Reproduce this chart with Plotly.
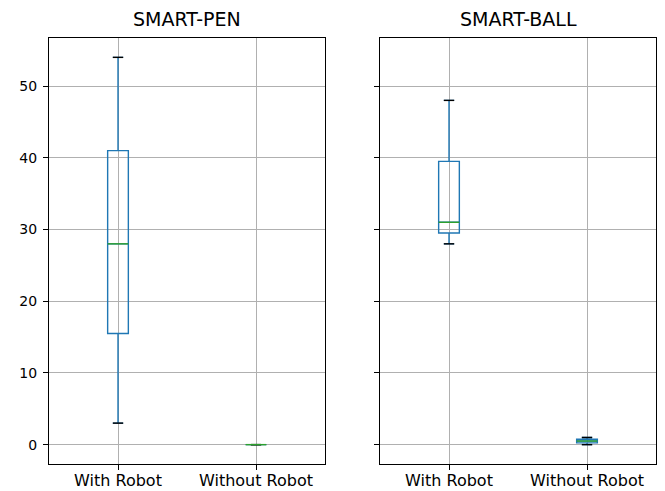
import plotly.graph_objects as go

# Summary statistics per panel: [With Robot, Without Robot]
groups = ["With Robot", "Without Robot"]
positions = [1, 2]

pen_low = [3, 0]
pen_q1 = [15.5, 0]
pen_median = [28, 0]
pen_q3 = [41, 0]
pen_high = [54, 0]

ball_low = [28, 0]
ball_q1 = [29.5, 0.25]
ball_median = [31, 0.5]
ball_q3 = [39.5, 0.75]
ball_high = [48, 1]

panels = [
    ("SMART-PEN", pen_low, pen_q1, pen_median, pen_q3, pen_high),
    ("SMART-BALL", ball_low, ball_q1, ball_median, ball_q3, ball_high),
]

BLUE = "#1f77b4"
GREEN = "#2ca02c"
BOX_W = 0.15
CAP_W = BOX_W / 2

fig = go.Figure()

for i, (title, low, q1, med, q3, high) in enumerate(panels):
    xa = "x" if i == 0 else "x2"
    ya = "y" if i == 0 else "y2"
    fig.add_trace(go.Box(
        x=positions, q1=q1, median=med, q3=q3,
        lowerfence=low, upperfence=high,
        width=BOX_W, whiskerwidth=0.5,
        line=dict(color=BLUE, width=1.4),
        fillcolor="rgba(0,0,0,0)",
        boxpoints=False, hoverinfo="skip",
        xaxis=xa, yaxis=ya, showlegend=False,
    ))
    # whisker caps (black)
    for ends in (low, high):
        cx, cy = [], []
        for p, v in zip(positions, ends):
            cx += [p - CAP_W / 2, p + CAP_W / 2, None]
            cy += [v, v, None]
        fig.add_trace(go.Scatter(
            x=cx, y=cy, mode="lines",
            line=dict(color="black", width=1.4),
            xaxis=xa, yaxis=ya, showlegend=False, hoverinfo="skip",
        ))
    # medians (green)
    mx, my = [], []
    for p, v in zip(positions, med):
        mx += [p - BOX_W / 2, p + BOX_W / 2, None]
        my += [v, v, None]
    fig.add_trace(go.Scatter(
        x=mx, y=my, mode="lines",
        line=dict(color=GREEN, width=1.4),
        xaxis=xa, yaxis=ya, showlegend=False, hoverinfo="skip",
    ))

W, H = 665, 491
top, bottom = 38, 464
ydom = [(H - bottom) / H, (H - top) / H]
xdom1 = [49 / W, 325 / W]
xdom2 = [380 / W, 656 / W]

axis_common = dict(
    showgrid=True, gridcolor="#b0b0b0", gridwidth=1,
    showline=True, linecolor="black", linewidth=1, mirror=True,
    ticks="outside", ticklen=5, tickcolor="black", tickwidth=1,
    zeroline=False, automargin=False,
)

xaxis_common = dict(axis_common, range=[0.5, 2.5], tickmode="array",
                    tickvals=positions, ticktext=groups, ticklabelstandoff=-3,
                    tickfont=dict(family="DejaVu Sans", size=16, color="black"))
yaxis_common = dict(axis_common, range=[-2.7, 56.7], tickmode="array",
                    tickvals=[0, 10, 20, 30, 40, 50], ticklabelstandoff=3,
                    tickfont=dict(family="DejaVu Sans", size=14, color="black"))

title_font = dict(family="DejaVu Sans", size=19, color="black")

fig.update_layout(
    width=W, height=H,
    margin=dict(l=0, r=0, t=0, b=0),
    paper_bgcolor="white", plot_bgcolor="white",
    showlegend=False,
    boxmode="overlay",
    xaxis=dict(xaxis_common, domain=xdom1, anchor="y"),
    xaxis2=dict(xaxis_common, domain=xdom2, anchor="y2"),
    yaxis=dict(yaxis_common, domain=ydom, anchor="x"),
    yaxis2=dict(yaxis_common, domain=ydom, anchor="x2", showticklabels=False),
    annotations=[
        dict(text=panels[0][0], x=sum(xdom1) / 2, y=ydom[1], xref="paper",
             yref="paper", xanchor="center", yanchor="bottom", yshift=6,
             showarrow=False, font=title_font),
        dict(text=panels[1][0], x=sum(xdom2) / 2, y=ydom[1], xref="paper",
             yref="paper", xanchor="center", yanchor="bottom", yshift=6,
             showarrow=False, font=title_font),
    ],
)

fig.write_html("out.html")
